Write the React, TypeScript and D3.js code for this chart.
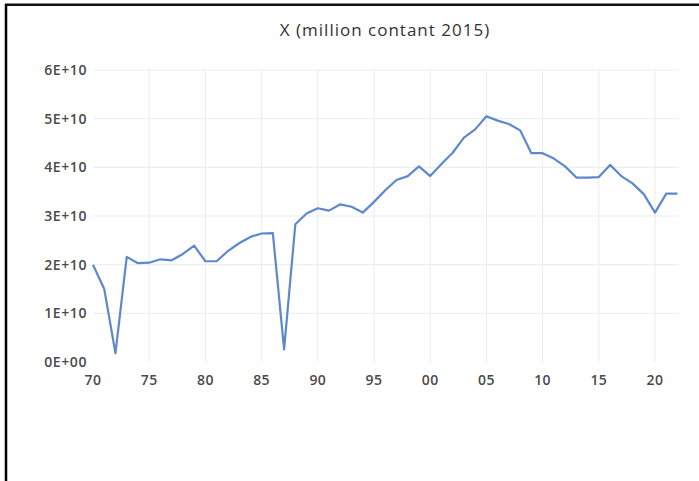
import React, { useEffect, useRef } from 'react';
import * as d3 from 'd3';

// Years 1970..2022
const years = d3.range(1970, 2023);

// Values (constant 2015 currency)
const values = [
  2.0e10, 1.5e10, 0.18e10, 2.16e10, 2.03e10, 2.04e10, 2.11e10, 2.09e10, 2.22e10, 2.39e10,
  2.07e10, 2.07e10, 2.28e10, 2.44e10, 2.57e10, 2.64e10, 2.65e10, 0.26e10, 2.83e10, 3.05e10,
  3.16e10, 3.11e10, 3.24e10, 3.19e10, 3.07e10, 3.29e10, 3.53e10, 3.74e10, 3.82e10, 4.02e10,
  3.82e10, 4.07e10, 4.3e10, 4.61e10, 4.78e10, 5.05e10, 4.96e10, 4.89e10, 4.76e10, 4.29e10,
  4.29e10, 4.18e10, 4.02e10, 3.79e10, 3.79e10, 3.8e10, 4.05e10, 3.82e10, 3.67e10, 3.45e10,
  3.07e10, 3.46e10, 3.46e10
];

const yTicks = [0, 1e10, 2e10, 3e10, 4e10, 5e10, 6e10];
const yTickLabels = ['0E+00', '1E+10', '2E+10', '3E+10', '4E+10', '5E+10', '6E+10'];
const xTicks = [1970, 1975, 1980, 1985, 1990, 1995, 2000, 2005, 2010, 2015, 2020];

const title = 'X (million contant 2015)';

const App: React.FC = () => {
  const svgRef = useRef<SVGSVGElement>(null);

  useEffect(() => {
    if (!svgRef.current) return;
    const width = 699;
    const height = 481;
    const font = '"Open Sans", "Noto Sans", sans-serif';

    const svg = d3.select(svgRef.current);
    svg.selectAll('*').remove();

    svg.append('rect')
      .attr('width', width)
      .attr('height', height)
      .attr('fill', '#fff');

    // frame (top + left edges visible)
    svg.append('line')
      .attr('x1', 5).attr('x2', width).attr('y1', 3.5).attr('y2', 3.5)
      .attr('stroke', '#888').attr('stroke-width', 1);
    svg.append('line')
      .attr('x1', 5).attr('x2', width).attr('y1', 5).attr('y2', 5)
      .attr('stroke', '#111').attr('stroke-width', 2);
    svg.append('line')
      .attr('x1', 6).attr('x2', 6).attr('y1', 4).attr('y2', height)
      .attr('stroke', '#000').attr('stroke-width', 2.5);

    const x = d3.scaleLinear().domain([1970, 2022]).range([93, 677.5]);
    const y = d3.scaleLinear().domain([0, 6e10]).range([362, 70]);

    // title
    svg.append('text')
      .attr('x', 385)
      .attr('y', 36)
      .attr('text-anchor', 'middle')
      .style('font-family', font)
      .style('font-size', '17px')
      .style('letter-spacing', '1px')
      .style('fill', '#333')
      .text(title);

    const grid = svg.append('g');
    // horizontal gridlines
    grid.selectAll('line.h')
      .data(yTicks.slice(1))
      .join('line')
      .attr('class', 'h')
      .attr('x1', 93).attr('x2', 679)
      .attr('y1', d => y(d)).attr('y2', d => y(d))
      .attr('stroke', '#ebebeb').attr('stroke-width', 1);
    // vertical gridlines
    grid.selectAll('line.v')
      .data(xTicks.slice(1))
      .join('line')
      .attr('class', 'v')
      .attr('x1', d => x(d)).attr('x2', d => x(d))
      .attr('y1', y(6e10)).attr('y2', y(0))
      .attr('stroke', '#ebebeb').attr('stroke-width', 1);

    // y labels
    svg.append('g')
      .selectAll('text')
      .data(yTicks)
      .join('text')
      .attr('x', 87)
      .attr('y', d => y(d) + 5)
      .attr('text-anchor', 'end')
      .style('font-family', font)
      .style('font-size', '14px')
      .style('font-weight', 600)
      .style('letter-spacing', '0.6px')
      .style('fill', '#4a4a4a')
      .text((d, i) => yTickLabels[i]);

    // x labels
    svg.append('g')
      .selectAll('text')
      .data(xTicks)
      .join('text')
      .attr('x', d => x(d))
      .attr('y', 385)
      .attr('text-anchor', 'middle')
      .style('font-family', font)
      .style('font-size', '14px')
      .style('font-weight', 600)
      .style('letter-spacing', '0.4px')
      .style('fill', '#4a4a4a')
      .text(d => d3.format('02d')(d % 100));

    const line = d3.line<number>()
      .x((d, i) => x(years[i]))
      .y(d => y(d));

    svg.append('path')
      .datum(values)
      .attr('fill', 'none')
      .attr('stroke', '#5f88cc')
      .attr('stroke-width', 2.2)
      .attr('stroke-linejoin', 'round')
      .attr('d', line);
  }, []);

  return (
    <svg
      ref={svgRef}
      width={699}
      height={481}
      style={{ position: 'absolute', left: 0, top: 0 }}
    />
  );
};

export default App;
